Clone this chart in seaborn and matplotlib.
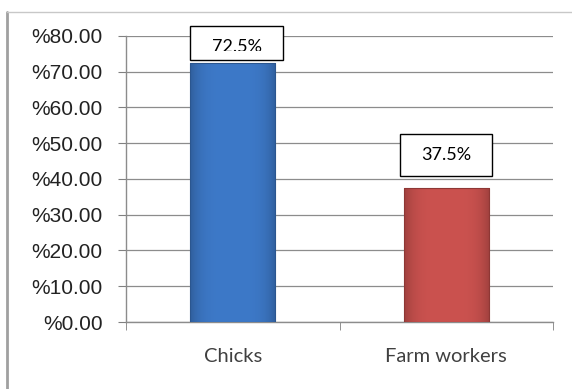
import matplotlib
matplotlib.use("Agg")
import matplotlib.pyplot as plt
import seaborn as sns
import pandas as pd
import numpy as np
from matplotlib.patches import Rectangle
from matplotlib.lines import Line2D
from matplotlib.ticker import FixedLocator

categories = ["Chicks", "Farm workers"]
values = [72.5, 37.5]
labels = ["72.5%", "37.5%"]
yticks = [0, 10, 20, 30, 40, 50, 60, 70, 80]
yticklabels = ["%0.00", "%10.00", "%20.00", "%30.00", "%40.00", "%50.00", "%60.00", "%70.00", "%80.00"]
colors = ["#3D79C8", "#CB524F"]
edgecolors = ["#2B568F", "#8E3735"]

sns.set_style("white")
plt.rcParams['font.family'] = ['Liberation Sans', 'DejaVu Sans']

df = pd.DataFrame({"cat": categories, "val": values})

fig = plt.figure(figsize=(5.72, 3.89), dpi=100)
ax = fig.add_axes([126/572, 1-322/389, (553-126)/572, (322-36)/389])

sns.barplot(data=df, x="cat", y="val", hue="cat", palette=colors, legend=False,
            width=0.40, ax=ax, linewidth=0.8, zorder=3)

# gradient shading on bars
for patch, c, ec in zip(ax.patches, colors, edgecolors):
    x0, y0 = patch.get_x(), patch.get_y()
    w, h = patch.get_width(), patch.get_height()
    xs = np.linspace(-1, 1, 200)
    shade = 1 - 0.22 * np.abs(xs) ** 4
    base = np.array(matplotlib.colors.to_rgb(c))
    img = np.clip(base[None, None, :] * shade[None, :, None], 0, 1)
    img = np.repeat(img, 2, axis=0)
    im = ax.imshow(img, extent=[x0, x0 + w, y0, y0 + h], aspect="auto", zorder=3.5,
                   interpolation="bilinear")
    im.set_clip_path(patch)
    patch.set_zorder(4)
    patch.set_facecolor("none")
    patch.set_edgecolor(ec)

ax.set_xlim(-0.5, 1.5)
ax.set_ylim(0, 80)
ax.set_yticks(yticks)
ax.set_yticklabels(yticklabels, fontsize=15, color="#222222")
ax.set_xlabel("")
ax.set_ylabel("")
ax.set_xticks([0, 1])
ax.set_xticklabels(categories, fontsize=14.5, color="#404040", family=["Lato", "DejaVu Sans"])
ax.xaxis.set_minor_locator(FixedLocator([-0.5, 0.5, 1.5]))
ax.tick_params(axis="x", which="major", length=0, pad=19)
ax.tick_params(axis="x", which="minor", length=6, color="#808080", direction="out", bottom=True)
ax.tick_params(axis="y", which="major", length=6, color="#808080", direction="out", left=True, pad=11)

ax.yaxis.grid(True, color="#8c8c8c", linewidth=0.9, zorder=0)
ax.set_axisbelow(True)
for s in ["top", "right"]:
    ax.spines[s].set_visible(False)
for s in ["left", "bottom"]:
    ax.spines[s].set_color("#8c8c8c")
    ax.spines[s].set_linewidth(1.0)

# label boxes
box_specs = [(-0.2002, 0.2354, 73.3, 82.8, 75.8, 76.9), (0.7830, 1.2140, 40.8, 52.6, 40.8, 46.7)]
for (bx0, bx1, by0, by1, clip_y0, cy), lab in zip(box_specs, labels):
    rect = Rectangle((bx0, by0), bx1 - bx0, by1 - by0, facecolor="white", edgecolor="black",
                     linewidth=1.0, zorder=5, clip_on=False)
    ax.add_patch(rect)
    clip = Rectangle((bx0, clip_y0), bx1 - bx0, by1 - clip_y0, transform=ax.transData)
    t = ax.text((bx0 + bx1) / 2, cy, lab, ha="center", va="center", fontsize=13,
                family=["Lato", "DejaVu Sans"], color="black", zorder=6, clip_on=True)
    t.set_clip_path(clip)

# outer frame
fig.add_artist(Line2D([7/572, 7/572], [0, 1-12/389], color="#a0a0a0", linewidth=2))
fig.add_artist(Line2D([7/572, 1], [1-12/389, 1-12/389], color="#c8c8c8", linewidth=1))

fig.savefig("out.png", dpi=100)
